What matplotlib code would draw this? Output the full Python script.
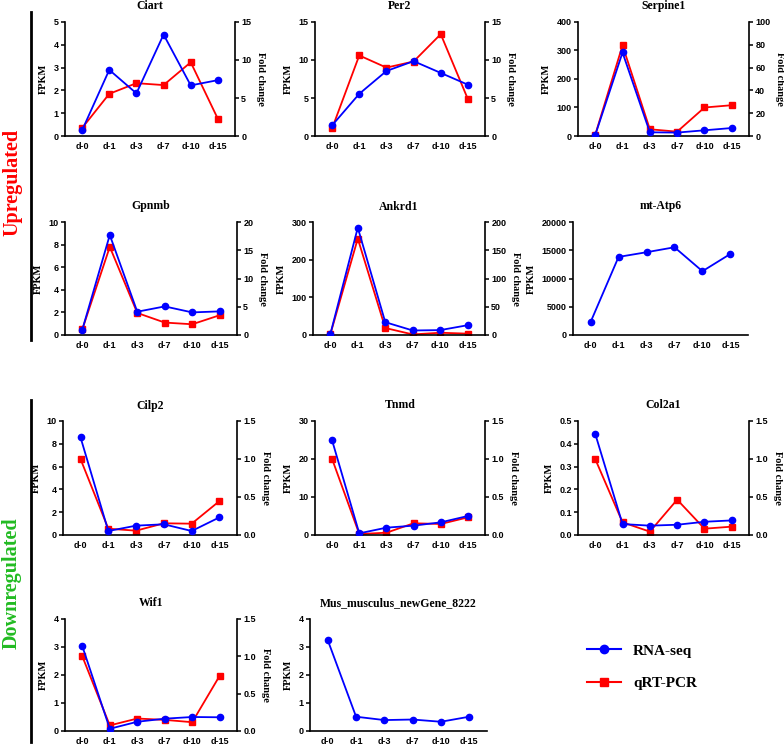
import matplotlib
matplotlib.use("Agg")
import matplotlib.pyplot as plt
import numpy as np

days = ["d-0", "d-1", "d-3", "d-7", "d-10", "d-15"]

ciart_fpkm = [0.25, 2.9, 1.87, 4.45, 2.22, 2.45]
ciart_fc = [1.05, 5.55, 6.95, 6.7, 9.7, 2.25]
per2_fpkm = [1.4, 5.55, 8.55, 9.85, 8.3, 6.75]
per2_fc = [1.0, 10.6, 9.0, 9.8, 13.4, 4.85]
serpine1_fpkm = [3, 293, 13, 12, 20, 28]
serpine1_fc = [1.0, 79.5, 5.9, 3.8, 25, 27]
gpnmb_fpkm = [0.47, 8.85, 2.06, 2.53, 2.0, 2.09]
gpnmb_fc = [1.0, 15.6, 3.9, 2.2, 1.9, 3.5]
ankrd1_fpkm = [2, 285, 34, 12, 13, 26]
ankrd1_fc = [1.0, 170.6, 12.4, 1.0, 4.0, 2.4]
atp6_fpkm = [2300, 13820, 14650, 15530, 11290, 14350]
cilp2_fpkm = [8.57, 0.35, 0.82, 0.94, 0.35, 1.55]
cilp2_fc = [1.0, 0.083, 0.057, 0.154, 0.149, 0.447]
tnmd_fpkm = [24.9, 0.44, 1.93, 2.46, 3.33, 5.0]
tnmd_fc = [1.0, 0.013, 0.03, 0.154, 0.145, 0.232]
col2a1_fpkm = [0.444, 0.048, 0.041, 0.045, 0.058, 0.064]
col2a1_fc = [1.0, 0.167, 0.044, 0.465, 0.083, 0.11]
wif1_fpkm = [3.03, 0.08, 0.33, 0.44, 0.5, 0.49]
wif1_fc = [1.0, 0.075, 0.167, 0.149, 0.118, 0.74]
newgene_fpkm = [3.24, 0.51, 0.39, 0.41, 0.33, 0.51]

W, H = 784, 749
fig = plt.figure(figsize=(W / 100, H / 100), dpi=100)

serif = "Liberation Serif"
sans = "Liberation Sans"
blue = "#0000FF"
red = "#FF0000"


def panel(box, title, fpkm, fc, lticks, rticks, lfmt="{:g}", rfmt="{:g}"):
    x0, y0, x1, y1 = box
    ax = fig.add_axes([x0 / W, 1 - y1 / H, (x1 - x0) / W, (y1 - y0) / H])
    x = np.arange(len(days))
    ax.plot(x, fpkm, color=blue, marker="o", ms=4.5, lw=1.3, label="RNA-seq", zorder=3)
    ax.set_ylim(lticks[0], lticks[-1])
    ax.set_yticks(lticks)
    ax.set_yticklabels([lfmt.format(t) for t in lticks])
    ax.set_xlim(-0.63, 5.63)
    ax.set_xticks(x)
    ax.set_xticklabels(days)
    ax.set_title(title, fontfamily=serif, fontweight="bold", fontsize=8.5, pad=9)
    ax.set_ylabel("FPKM", fontfamily=serif, fontweight="bold", fontsize=7.5, labelpad=4)
    for s in ["top", "right"]:
        ax.spines[s].set_visible(False)
    for s in ["left", "bottom"]:
        ax.spines[s].set_linewidth(1.2)
    ax.tick_params(axis="y", length=3, width=1.1, labelsize=6.5, pad=1.5)
    ax.tick_params(axis="x", length=0, labelsize=6.5, pad=4.5)
    for lab in ax.get_xticklabels() + ax.get_yticklabels():
        lab.set_fontfamily(sans)
        lab.set_fontweight("bold")
    if fc is None:
        return ax
    ax2 = ax.twinx()
    ax2.plot(x, fc, color=red, marker="s", ms=4.5, lw=1.3, label="qRT-PCR")
    ax2.set_ylim(rticks[0], rticks[-1])
    ax2.set_yticks(rticks)
    ax2.set_yticklabels([rfmt.format(t) for t in rticks])
    ax2.set_ylabel("Fold change", fontfamily=serif, fontweight="bold", fontsize=7.5,
                   rotation=270, labelpad=10)
    for s in ["top", "left", "bottom"]:
        ax2.spines[s].set_visible(False)
    ax2.spines["right"].set_linewidth(1.2)
    ax2.tick_params(axis="y", length=3, width=1.1, labelsize=6.5, pad=1.5)
    for lab in ax2.get_yticklabels():
        lab.set_fontfamily(sans)
        lab.set_fontweight("bold")
    ax.set_zorder(ax2.get_zorder() + 1)
    ax.patch.set_visible(False)
    return ax


panel((65, 22, 235, 136), "Ciart", ciart_fpkm, ciart_fc,
      [0, 1, 2, 3, 4, 5], [0, 5, 10, 15])
panel((315, 22, 485, 136), "Per2", per2_fpkm, per2_fc, [0, 5, 10, 15], [0, 5, 10, 15])
panel((578, 22, 749, 136), "Serpine1", serpine1_fpkm, serpine1_fc,
      [0, 100, 200, 300, 400], [0, 20, 40, 60, 80, 100])
panel((65, 222, 237, 335), "Gpnmb", gpnmb_fpkm, gpnmb_fc,
      [0, 2, 4, 6, 8, 10], [0, 5, 10, 15, 20])
panel((313, 222, 485, 335), "Ankrd1", ankrd1_fpkm, ankrd1_fc,
      [0, 100, 200, 300], [0, 50, 100, 150, 200])
panel((573, 222, 748, 335), "mt-Atp6", atp6_fpkm, None,
      [0, 5000, 10000, 15000, 20000], None)
panel((63, 421, 237, 535), "Cilp2", cilp2_fpkm, cilp2_fc,
      [0, 2, 4, 6, 8, 10], [0, 0.5, 1.0, 1.5], rfmt="{:.1f}")
panel((315, 421, 485, 535), "Tnmd", tnmd_fpkm, tnmd_fc,
      [0, 10, 20, 30], [0, 0.5, 1.0, 1.5], rfmt="{:.1f}")
panel((578, 421, 749, 535), "Col2a1", col2a1_fpkm, col2a1_fc,
      [0, 0.1, 0.2, 0.3, 0.4, 0.5], [0, 0.5, 1.0, 1.5], lfmt="{:.1f}", rfmt="{:.1f}")
panel((65, 619, 237, 731), "Wif1", wif1_fpkm, wif1_fc,
      [0, 1, 2, 3, 4], [0, 0.5, 1.0, 1.5], rfmt="{:.1f}")
panel((310, 619, 487, 731), "Mus_musculus_newGene_8222", newgene_fpkm, None,
      [0, 1, 2, 3, 4], None)

# group labels and bars
fig.add_artist(plt.Line2D([31 / W, 31 / W], [1 - 12 / H, 1 - 340 / H], color="black", lw=2))
fig.add_artist(plt.Line2D([31 / W, 31 / W], [1 - 400 / H, 1 - 742 / H], color="black", lw=2))
fig.text(12 / W, 1 - 182 / H, "Upregulated", rotation=90, color="#FF0000",
         fontfamily=serif, fontweight="bold", fontsize=14.5, ha="center", va="center")
fig.text(12 / W, 1 - 583 / H, "Downregulated", rotation=90, color="#22BB22",
         fontfamily=serif, fontweight="bold", fontsize=14.5, ha="center", va="center")

# legend
h1 = plt.Line2D([], [], color=blue, marker="o", ms=6, lw=1.5)
h2 = plt.Line2D([], [], color=red, marker="s", ms=6, lw=1.5)
fig.legend([h1, h2], ["RNA-seq", "qRT-PCR"], loc="center",
           bbox_to_anchor=(642 / W, 1 - 667 / H), frameon=False,
           prop={"family": serif, "weight": "bold", "size": 11},
           handlelength=2.2, labelspacing=1.2)

plt.savefig("out.png", dpi=100)
